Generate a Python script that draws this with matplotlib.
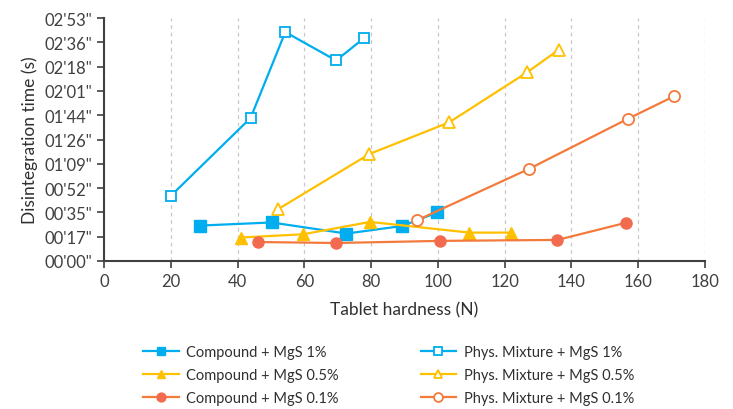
import numpy as np
import matplotlib.pyplot as plt
from matplotlib.ticker import FuncFormatter, MultipleLocator

# — Dados (dureza em N, tempo em s) —
comp_1_x = [28.8, 50.2, 72.6, 89.3, 99.8]
comp_1_y = [25.2, 27.4, 19.5, 24.9, 34.5]
comp_05_x = [41.0, 59.6, 79.7, 109.4, 121.9]
comp_05_y = [16.7, 19.0, 27.8, 20.2, 20.2]
comp_01_x = [46.1, 69.5, 100.7, 135.8, 156.2]
comp_01_y = [13.5, 12.8, 14.3, 15.0, 27.1]

phys_1_x = [20.0, 43.9, 54.3, 69.5, 78.0]
phys_1_y = [46.3, 101.7, 162.8, 142.6, 158.7]
phys_05_x = [52.1, 79.5, 103.4, 126.8, 136.3]
phys_05_y = [36.8, 76.1, 98.6, 134.3, 150.4]
phys_01_x = [93.8, 127.2, 156.8, 170.8]
phys_01_y = [29.0, 65.4, 101.0, 117.2]

AZUL = '#00ADEF'
AMARELO = '#FFC000'
LARANJA = '#F47A3C'
LARANJA_M = '#F26B4F'

plt.rcParams['font.family'] = ['Lato', 'DejaVu Sans']

fig = plt.figure(figsize=(7.33, 4.10), dpi=100)
ax = fig.add_axes([104/733, 1-262/410, (705-104)/733, (262-19)/410])

ms = 8
lw = 1.6
ax.plot(comp_1_x, comp_1_y, color=AZUL, lw=lw, marker='s', ms=ms, mfc=AZUL, mec=AZUL,
        label='Compound + MgS 1%')
ax.plot(comp_05_x, comp_05_y, color=AMARELO, lw=lw, marker='^', ms=ms, mfc=AMARELO, mec=AMARELO,
        label='Compound + MgS 0.5%')
ax.plot(comp_01_x, comp_01_y, color=LARANJA, lw=lw, marker='o', ms=ms, mfc=LARANJA_M, mec=LARANJA_M,
        label='Compound + MgS 0.1%')
ax.plot(phys_1_x, phys_1_y, color=AZUL, lw=lw, marker='s', ms=ms - 1, mfc='white', mec=AZUL, mew=1.3,
        label='Phys. Mixture + MgS 1%')
ax.plot(phys_05_x, phys_05_y, color=AMARELO, lw=lw, marker='^', ms=ms, mfc='white', mec=AMARELO, mew=1.3,
        label='Phys. Mixture + MgS 0.5%')
ax.plot(phys_01_x, phys_01_y, color=LARANJA, lw=lw, marker='o', ms=ms, mfc='white', mec=LARANJA, mew=1.3,
        label='Phys. Mixture + MgS 0.1%')

# — Eixos —
ax.set_xlim(0, 180)
ax.set_ylim(0, 172.8)
ax.xaxis.set_major_locator(MultipleLocator(20))
ax.yaxis.set_major_locator(MultipleLocator(17.28))


def fmt_tempo(v, pos):
    s = int(round(v))
    return "%02d'%02d\"" % (s // 60, s % 60)


ax.yaxis.set_major_formatter(FuncFormatter(fmt_tempo))
ax.grid(True, axis='x', linestyle=(0, (3, 3)), color='#C8C8C8', linewidth=0.9)
ax.set_axisbelow(True)
for lado in ['top', 'right']:
    ax.spines[lado].set_visible(False)
for lado in ['left', 'bottom']:
    ax.spines[lado].set_color('#404040')
    ax.spines[lado].set_linewidth(1.5)
ax.tick_params(axis='both', colors='#404040', labelsize=12, length=5, width=1.2,
               labelcolor='#404040')
ax.set_xlabel('Tablet hardness (N)', fontsize=12.5, color='#303030', labelpad=9)
ax.set_ylabel('Disintegration time (s)', fontsize=12.5, color='#303030', labelpad=5)

fig.legend(loc='upper left', bbox_to_anchor=(133/733, 1-336/410), ncol=2, frameon=False,
           fontsize=10.5, columnspacing=5.6, handlelength=2.45, handletextpad=0.5,
           labelspacing=0.62, labelcolor='#303030', markerscale=0.8, borderpad=0.2)

fig.savefig('out.png', dpi=100)
